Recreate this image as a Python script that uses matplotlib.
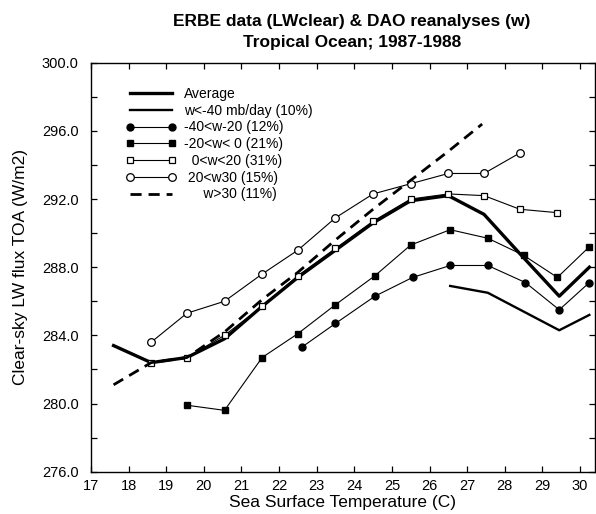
import numpy as np
import matplotlib
matplotlib.use('Agg')
import matplotlib.pyplot as plt
from matplotlib.ticker import MultipleLocator, FormatStrFormatter

plt.rcParams['font.family'] = ['Liberation Sans', 'DejaVu Sans']

# values (SST in C, flux in W/m2)
sst_avg = [17.6, 18.6, 19.55, 20.55, 21.55, 22.5, 23.5, 24.5, 25.5, 26.5, 27.45, 28.4, 29.45, 30.25]
lw_avg = [283.4, 282.4, 282.7, 283.8, 285.7, 287.4, 289.0, 290.6, 291.9, 292.2, 291.1, 288.8, 286.3, 288.0]

sst_m40 = [26.55, 27.55, 28.5, 29.45, 30.25]
lw_m40 = [286.9, 286.5, 285.4, 284.3, 285.2]

sst_m40m20 = [22.6, 23.5, 24.55, 25.55, 26.55, 27.55, 28.55, 29.45, 30.25]
lw_m40m20 = [283.3, 284.7, 286.3, 287.4, 288.1, 288.1, 287.1, 285.5, 287.1]

sst_m20p0 = [19.55, 20.55, 21.55, 22.5, 23.5, 24.55, 25.5, 26.55, 27.55, 28.5, 29.4, 30.25]
lw_m20p0 = [279.9, 279.6, 282.7, 284.1, 285.8, 287.5, 289.3, 290.2, 289.7, 288.7, 287.4, 289.2]

sst_p0p20 = [18.6, 19.55, 20.55, 21.55, 22.5, 23.5, 24.5, 25.5, 26.5, 27.45, 28.4, 29.4]
lw_p0p20 = [282.4, 282.7, 284.0, 285.7, 287.5, 289.1, 290.7, 292.0, 292.3, 292.2, 291.4, 291.2]

sst_p20p30 = [18.6, 19.55, 20.55, 21.55, 22.5, 23.5, 24.5, 25.5, 26.5, 27.45, 28.4]
lw_p20p30 = [283.6, 285.3, 286.0, 287.6, 289.0, 290.9, 292.3, 292.9, 293.5, 293.5, 294.7]

sst_p30 = [17.6, 18.6, 19.55, 20.55, 21.55, 22.5, 23.5, 24.5, 25.5, 26.5, 27.4]
lw_p30 = [281.1, 282.4, 282.7, 284.2, 286.1, 287.7, 289.6, 291.4, 293.1, 294.8, 296.4]

fig = plt.figure(figsize=(5.96, 5.14), dpi=100)
ax = fig.add_axes([0.1527, 0.0823, 0.8456, 0.7957])

ax.plot(sst_avg, lw_avg, color='black', lw=2.4, label='Average')
ax.plot(sst_m40, lw_m40, color='black', lw=1.7, label='w<-40 mb/day (10%)')
ax.plot(sst_m40m20, lw_m40m20, color='black', lw=0.8, marker='o', ms=5,
        label='-40<w-20 (12%)')
ax.plot(sst_m20p0, lw_m20p0, color='black', lw=0.8, marker='s', ms=4.5,
        label='-20<w< 0 (21%)')
ax.plot(sst_p0p20, lw_p0p20, color='black', lw=0.8, marker='s', ms=4,
        mfc='white', mew=0.9, label='  0<w<20 (31%)')
ax.plot(sst_p20p30, lw_p20p30, color='black', lw=0.8, marker='o', ms=5.5,
        mfc='white', mew=0.9, label=' 20<w30 (15%)')
ax.plot(sst_p30, lw_p30, color='black', lw=2.0, ls=(0, (4, 2.5)),
        label='     w>30 (11%)')

ax.set_xlim(17, 30.4)
ax.set_ylim(276, 300)
ax.xaxis.set_major_locator(MultipleLocator(1))
ax.yaxis.set_major_locator(MultipleLocator(4))
ax.yaxis.set_minor_locator(MultipleLocator(2))
ax.yaxis.set_major_formatter(FormatStrFormatter('%.1f'))
ax.tick_params(which='both', direction='in', top=True, right=True,
               length=4, width=0.9, labelsize=10.5)
ax.tick_params(axis='x', pad=5)
ax.tick_params(axis='y', pad=9)
for sp in ax.spines.values():
    sp.set_linewidth(1.0)

ax.set_xlabel('Sea Surface Temperature (C)', fontsize=12.5, labelpad=2)
ax.set_ylabel('Clear-sky LW flux TOA (W/m2)', fontsize=12.5, labelpad=10)

fig.text(0.59, 0.959, 'ERBE data (LWclear) & DAO reanalyses (w)',
         ha='center', va='center', fontsize=12.5, fontweight='bold')
fig.text(0.59, 0.918, 'Tropical Ocean; 1987-1988',
         ha='center', va='center', fontsize=12.5, fontweight='bold')

ax.legend(loc='upper left', bbox_to_anchor=(0.055, 0.958), frameon=False,
          fontsize=10, numpoints=2, handlelength=3.6, handletextpad=0.6,
          labelspacing=0.2, borderpad=0)

fig.savefig('out.png', dpi=100)
